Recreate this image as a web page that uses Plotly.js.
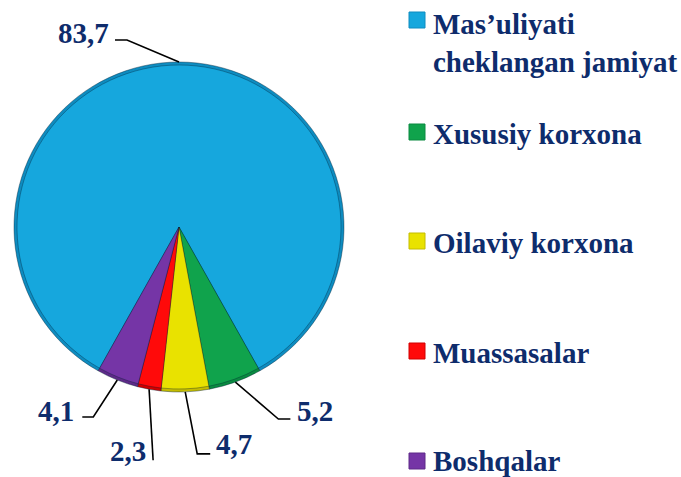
<!DOCTYPE html>
<html><head><meta charset="utf-8">
<script src="https://cdn.plot.ly/plotly-3.0.1.min.js"></script>
<style>html,body{margin:0;padding:0;background:#fff}#chart{width:681px;height:477px}</style>
</head><body><div id="chart"></div>
<script>
const categories = ["Mas’uliyati cheklangan jamiyat","Xususiy korxona","Oilaviy korxona","Muassasalar","Boshqalar"];
const legendLabels = ["Mas’uliyati<br>cheklangan jamiyat","Xususiy korxona","Oilaviy korxona","Muassasalar","Boshqalar"];
const values = [83.7, 5.2, 4.7, 2.3, 4.1];
const valueLabels = ["83,7","5,2","4,7","2,3","4,1"];
const colors = ["#16A7DD","#10A34C","#E9E200","#FF0A0A","#7535A6"];
const rimColors = ["#0E8CC0","#0A8A40","#C4BC00","#D00000","#5E2A88"];

const W = 681, H = 477;
const cx = 179, cy = 227, R = 165, rim = 3;
const px = x => x / W, py = y => 1 - y / H;
const navy = "#0E2C6C";
const fontFam = "Liberation Serif";

const total = values.reduce((a, b) => a + b, 0);
const rotation = -values[0] / total * 180;
let acc = 0;
const mids = values.map(v => { const m = rotation + (acc + v / 2) / total * 360; acc += v; return m; });

// leader line geometry (style): elbow, end, text offset relative to slice edge point
const leader = [
  {e:[-52,-22], f:[-64,-22], t:[-68,-29], a:"right"},
  {e:[43,37],  f:[55,37],  t:[60,29],  a:"left"},
  {e:[12,62],  f:[25,62],  t:[29,52],  a:"left"},
  {e:[4,71],   f:[4,71],   t:[-1,62],  a:"right"},
  {e:[-24,37], f:[-35,37], t:[-41,31], a:"right"}
];

const shapes = [], annotations = [];
mids.forEach((m, i) => {
  const rad = m * Math.PI / 180;
  const sx = cx + R * Math.sin(rad), sy = cy - R * Math.cos(rad);
  const L = leader[i];
  shapes.push({type:"path", xref:"paper", yref:"paper",
    path:`M ${px(sx)} ${py(sy)} L ${px(sx+L.e[0])} ${py(sy+L.e[1])} L ${px(sx+L.f[0])} ${py(sy+L.f[1])}`,
    line:{color:"#000", width:1.6}});
  annotations.push({xref:"paper", yref:"paper", x:px(sx+L.t[0]), y:py(sy+L.t[1]),
    xanchor:L.a, yanchor:"middle", showarrow:false, text:valueLabels[i],
    font:{family:fontFam, size:29, color:navy, weight:"bold"}});
});

// custom legend
const legY = [20, 132, 241, 351, 461];
legendLabels.forEach((lab, i) => {
  shapes.push({type:"rect", xref:"paper", yref:"paper",
    x0:px(409), x1:px(425), y0:py(legY[i]-8), y1:py(legY[i]+8),
    fillcolor:colors[i], line:{color:rimColors[i], width:1}});
  annotations.push({xref:"paper", yref:"paper", x:px(431), y:py(legY[i]+2 - (i===0?16:0) - (i===4?2:0)),
    xanchor:"left", yanchor:i===0?"top":"middle", align:"left", showarrow:false,
    text:lab, font:{family:fontFam, size:29, color:navy, weight:"bold"}});
});

const common = {type:"pie", labels:categories, values:values, sort:false, direction:"clockwise",
  rotation:rotation, textinfo:"none", hoverinfo:"label+value", showlegend:false};
const data = [
  Object.assign({}, common, {
    marker:{colors:rimColors, line:{color:"rgba(0,30,50,0.4)", width:1}},
    domain:{x:[px(cx-R), px(cx+R)], y:[py(cy+R), py(cy-R)]}}),
  Object.assign({}, common, {
    marker:{colors:colors, line:{color:"rgba(0,30,50,0.35)", width:1}},
    domain:{x:[px(cx-R+rim), px(cx+R-rim)], y:[py(cy+R-rim), py(cy-R+rim)]}})
];

const layout = {
  width:W, height:H, margin:{l:0,r:0,t:0,b:0},
  paper_bgcolor:"#fff", showlegend:false,
  shapes:shapes, annotations:annotations
};
Plotly.newPlot("chart", data, layout, {displayModeBar:false, staticPlot:true});
</script>
</body></html>
